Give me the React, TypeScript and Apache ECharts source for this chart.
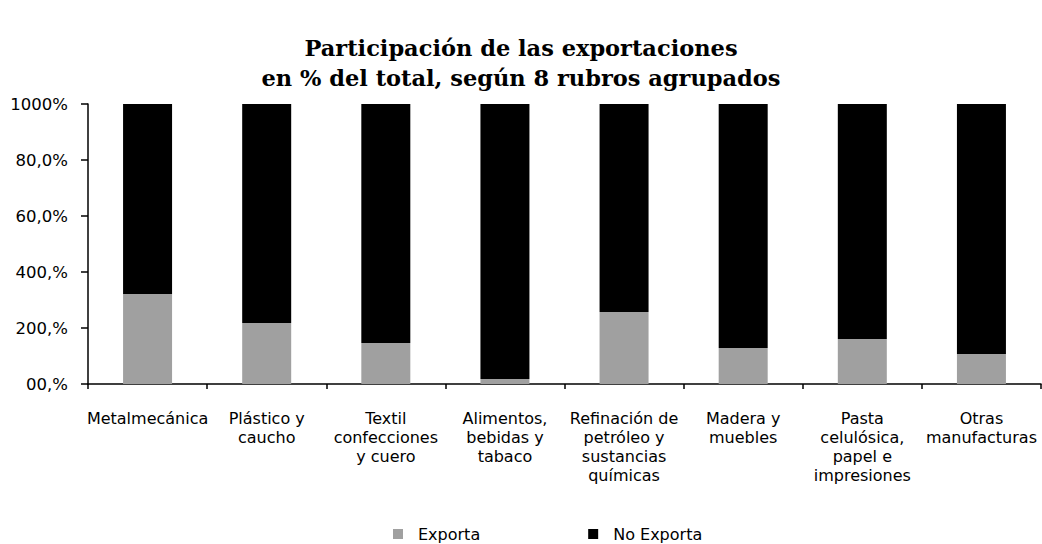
import React, { useEffect, useRef } from "react";
import * as echarts from "echarts";

const categories = [
  "Metalmecánica",
  "Plástico y\ncaucho",
  "Textil\nconfecciones\ny cuero",
  "Alimentos,\nbebidas y\ntabaco",
  "Refinación de\npetróleo y\nsustancias\nquímicas",
  "Madera y\nmuebles",
  "Pasta\ncelulósica,\npapel e\nimpresiones",
  "Otras\nmanufacturas",
];
const exporta = [32.1, 21.8, 14.6, 1.8, 25.7, 12.9, 16.1, 10.7];
const noExporta = [67.9, 78.2, 85.4, 98.2, 74.3, 87.1, 83.9, 89.3];
const yTickLabels = ["00,%", "200,%", "400,%", "60,0%", "80,0%", "1000%"];

export default function App() {
  const ref = useRef<HTMLDivElement>(null);
  useEffect(() => {
    if (!ref.current) return;
    const chart = echarts.init(ref.current, null, { renderer: "svg" });
    const font = "'DejaVu Sans', sans-serif";
    chart.setOption({
      animation: false,
      backgroundColor: "#fff",
      title: {
        text: "Participación de las exportaciones\nen % del total, según 8 rubros agrupados",
        left: "center",
        top: 28,
        textStyle: {
          fontFamily: "'DejaVu Serif', serif",
          fontWeight: "bold",
          fontSize: 22.5,
          lineHeight: 30,
          color: "#000",
        },
      },
      legend: {
        top: 526,
        left: 393,
        itemWidth: 10,
        itemHeight: 10,
        itemGap: 108,
        icon: "rect",
        padding: 0,
        textStyle: { fontFamily: font, fontSize: 16, color: "#000", padding: [0, 0, 0, 10] },
        data: ["Exporta", "No Exporta"],
      },
      grid: { left: 88, right: 1, top: 104, bottom: 160, containLabel: false },
      xAxis: {
        type: "category",
        data: categories,
        axisLine: { lineStyle: { color: "#000", width: 1.5 } },
        axisTick: { show: true, length: 5, lineStyle: { color: "#000", width: 1.5 } },
        axisLabel: {
          interval: 0,
          fontFamily: font,
          fontSize: 16,
          lineHeight: 19,
          color: "#000",
          margin: 25,
        },
      },
      yAxis: {
        type: "value",
        min: 0,
        max: 100,
        interval: 20,
        splitLine: { show: false },
        axisLine: { show: true, lineStyle: { color: "#000", width: 1.5 } },
        axisTick: { show: true, length: 7, lineStyle: { color: "#000", width: 1.5 } },
        axisLabel: {
          fontFamily: font,
          fontSize: 16.5,
          color: "#000",
          margin: 20,
          formatter: (v: number) => yTickLabels[Math.round(v / 20)],
        },
      },
      series: [
        {
          name: "Exporta",
          type: "bar",
          stack: "total",
          barWidth: 49,
          data: exporta,
          itemStyle: { color: "#a0a0a0" },
        },
        {
          name: "No Exporta",
          type: "bar",
          stack: "total",
          barWidth: 49,
          data: noExporta,
          itemStyle: { color: "#000" },
        },
      ],
    });
    return () => chart.dispose();
  }, []);
  return (
    <div
      ref={ref}
      style={{ width: 1042, height: 544, position: "absolute", left: 0, top: 0 }}
    />
  );
}
